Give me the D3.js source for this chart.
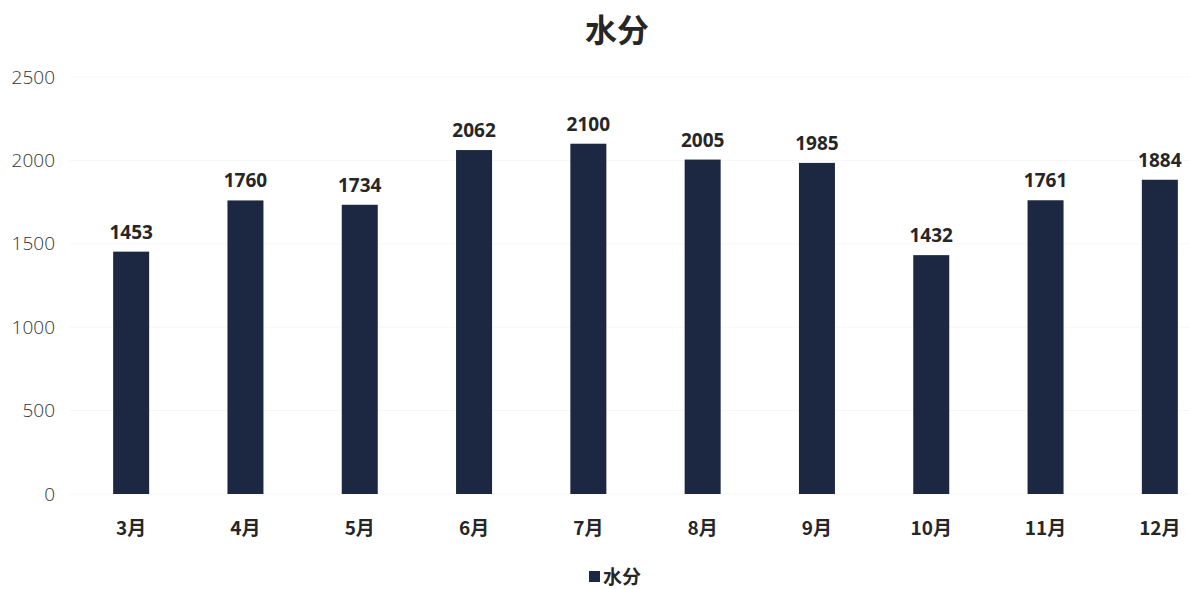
<!DOCTYPE html>
<html><head><meta charset="utf-8">
<script src="https://cdn.jsdelivr.net/npm/d3@7"></script>
<style>
body{margin:0;background:#fff;}
svg{display:block;}
text{font-family:"Noto Sans","Noto Sans CJK SC",sans-serif;}
</style></head>
<body><svg id="c" width="1189" height="589"></svg>
<script>
const title = "水分";
const seriesName = "水分";
const categories = ["3月","4月","5月","6月","7月","8月","9月","10月","11月","12月"];
const values = [1453,1760,1734,2062,2100,2005,1985,1432,1761,1884];
const yTicks = [0,500,1000,1500,2000,2500];

const svg = d3.select("#c");
const barColor = "#1c2741";
const x = d3.scaleBand().domain(categories).range([74, 1217]).paddingInner(0.685).paddingOuter(0.3425);
const y = d3.scaleLinear().domain([0, 2500]).range([494, 77]);

// faint gridlines
svg.append("g").selectAll("line").data(yTicks).join("line")
  .attr("x1", 70).attr("x2", 1189)
  .attr("y1", d => y(d)).attr("y2", d => y(d))
  .attr("stroke", "#f7f7f7").attr("stroke-width", 1);

// y axis
const yAxis = svg.append("g").attr("transform", "translate(55,0)")
  .call(d3.axisLeft(y).tickValues(yTicks).tickSize(0).tickPadding(0).tickFormat(d3.format("d")));
yAxis.select(".domain").remove();
yAxis.selectAll("text").attr("font-size", 19).attr("fill", "#333")
  .style("font-family", "'Open Sans','Noto Sans',sans-serif").attr("font-weight", 300);

// bars
svg.append("g").selectAll("rect").data(values).join("rect")
  .attr("x", (d,i) => x(categories[i]))
  .attr("width", x.bandwidth())
  .attr("y", d => y(d))
  .attr("height", d => y(0) - y(d))
  .attr("fill", barColor);

// value labels
svg.append("g").selectAll("text").data(values).join("text")
  .attr("x", (d,i) => x(categories[i]) + x.bandwidth()/2)
  .attr("y", d => y(d) - 13)
  .attr("text-anchor", "middle")
  .attr("font-size", 19).attr("font-weight", 700).attr("fill", "#262626")
  .text(d => d);

// x axis
const xAxis = svg.append("g").attr("transform", "translate(0,494)")
  .call(d3.axisBottom(x).tickSize(0).tickPadding(0));
xAxis.select(".domain").remove();
xAxis.selectAll("text").attr("y", 28).attr("dy", "0.71em").attr("font-size", 19).attr("font-weight", 700).attr("fill", "#262626")
  .style("font-family", "'Noto Sans CJK SC',sans-serif");

// title
svg.append("text").attr("x", 617).attr("y", 42).attr("text-anchor", "middle")
  .attr("font-size", 32).attr("font-weight", 700).attr("fill", "#262626")
  .style("font-family", "'Noto Sans CJK SC',sans-serif").text(title);

// legend
const lg = svg.append("g").attr("transform", "translate(589,571)");
lg.append("rect").attr("x", 0).attr("y", 0).attr("width", 11).attr("height", 11).attr("fill", barColor);
lg.append("text").attr("x", 14).attr("y", 6).attr("dy", "0.35em").attr("font-size", 19).attr("font-weight", 700).attr("fill", "#262626")
  .style("font-family", "'Noto Sans CJK SC',sans-serif").text(seriesName);
</script></body></html>
